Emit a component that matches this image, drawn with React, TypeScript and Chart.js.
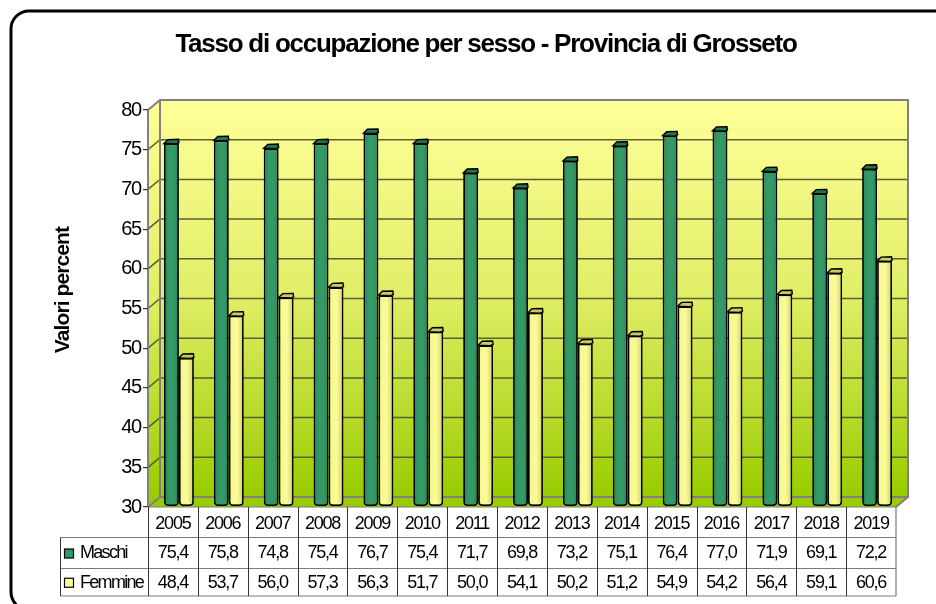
import React, { useEffect, useRef } from "react";
import { Chart, registerables } from "chart.js";

Chart.register(...registerables);

const years = ["2005", "2006", "2007", "2008", "2009", "2010", "2011", "2012", "2013", "2014", "2015", "2016", "2017", "2018", "2019"];
const maschi = [75.4, 75.8, 74.8, 75.4, 76.7, 75.4, 71.7, 69.8, 73.2, 75.1, 76.4, 77.0, 71.9, 69.1, 72.2];
const femmine = [48.4, 53.7, 56.0, 57.3, 56.3, 51.7, 50.0, 54.1, 50.2, 51.2, 54.9, 54.2, 56.4, 59.1, 60.6];
const titleText = "Tasso di occupazione per sesso - Provincia di Grosseto";
const yTitleText = "Valori percent";
const seriesNames = ["Maschi", "Femmine"];
const GREEN = "#339966";
const YELLOW = "#FBFB98";
const FONT = "'Liberation Sans', Arial, sans-serif";
const fmt = (v: number) => v.toFixed(1).replace(".", ",");

const DX = 12;
const DY = 10;
const BAR_SHIFT_X = 6;
const BAR_SHIFT_Y = -3;

const backdrop = {
  id: "backdrop",
  afterLayout(chart: any) {
    const b = chart.titleBlock;
    if (b && !b.__patched) {
      b.__patched = true;
      const d = b.draw;
      b.draw = function (...a: any[]) {
        chart.ctx.save();
        chart.ctx.letterSpacing = "-1.25px";
        d.apply(b, a);
        chart.ctx.restore();
      };
    }
    if (b) {
      b.left = 18;
      b.right = chart.width + 18;
    }
  },
  beforeDraw(chart: any) {
    const { ctx, chartArea: a, scales } = chart;
    const y = scales.y;
    ctx.letterSpacing = "-1.2px";
    ctx.save();
    ctx.letterSpacing = "0px";
    // outer rounded frame, running off the page
    ctx.strokeStyle = "#000";
    ctx.lineWidth = 3;
    ctx.beginPath();
    ctx.roundRect(11, 11, chart.width + 40, chart.height + 6 - 11, 18);
    ctx.stroke();

    const top = a.top - DY;
    const bot = a.bottom - DY;
    const grad = ctx.createLinearGradient(0, top, 0, bot);
    grad.addColorStop(0, "#FFFF99");
    grad.addColorStop(0.5, "#E0EE66");
    grad.addColorStop(1, "#99CC00");
    // side wall
    ctx.fillStyle = grad;
    ctx.beginPath();
    ctx.moveTo(a.left, a.top);
    ctx.lineTo(a.left + DX, top);
    ctx.lineTo(a.left + DX, bot);
    ctx.lineTo(a.left, a.bottom);
    ctx.closePath();
    ctx.fill();
    // back wall
    ctx.fillRect(a.left + DX, top, a.right - a.left, bot - top);
    // floor
    ctx.fillStyle = "#99CC00";
    ctx.beginPath();
    ctx.moveTo(a.left, a.bottom);
    ctx.lineTo(a.left + DX, bot);
    ctx.lineTo(a.right + DX, bot);
    ctx.lineTo(a.right, a.bottom);
    ctx.closePath();
    ctx.fill();
    // grid on walls
    ctx.strokeStyle = "#5E5E30";
    ctx.lineWidth = 1.5;
    y.ticks.forEach((t: any) => {
      if (t.value === 30 || t.value === 80) return;
      const py = y.getPixelForValue(t.value);
      ctx.beginPath();
      ctx.moveTo(a.left, py);
      ctx.lineTo(a.left + DX, py - DY);
      ctx.lineTo(a.right + DX, py - DY);
      ctx.stroke();
    });
    // wall edges
    ctx.strokeStyle = "#808080";
    ctx.lineWidth = 2;
    ctx.beginPath();
    ctx.moveTo(a.left, a.bottom);
    ctx.lineTo(a.left, a.top);
    ctx.lineTo(a.left + DX, top);
    ctx.lineTo(a.right + DX, top);
    ctx.lineTo(a.right + DX, bot);
    ctx.lineTo(a.left + DX, bot);
    ctx.lineTo(a.left + DX, top);
    ctx.moveTo(a.left, a.bottom);
    ctx.lineTo(a.left + DX, bot);
    ctx.moveTo(a.right + DX, bot);
    ctx.lineTo(a.right, a.bottom);
    ctx.stroke();
    ctx.restore();
  },
  beforeDatasetsDraw(chart: any) {
    chart.ctx.save();
    chart.ctx.translate(BAR_SHIFT_X, BAR_SHIFT_Y);
  },
  afterDatasetsDraw(chart: any) {
    const { ctx } = chart;
    chart.data.datasets.forEach((ds: any, di: number) => {
      const isGreen = di === 0;
      chart.getDatasetMeta(di).data.forEach((el: any) => {
        const l = el.x - el.width / 2;
        const r = el.x + el.width / 2;
        const w = el.width;
        const g = ctx.createLinearGradient(l, 0, r, 0);
        if (isGreen) {
          g.addColorStop(0, "rgba(0,0,0,0.2)");
          g.addColorStop(0.3, "rgba(0,0,0,0)");
          g.addColorStop(0.7, "rgba(0,0,0,0)");
          g.addColorStop(1, "rgba(0,0,0,0.2)");
        } else {
          g.addColorStop(0, "rgba(120,120,0,0.05)");
          g.addColorStop(0.55, "rgba(120,120,0,0)");
          g.addColorStop(0.72, "rgba(120,120,0,0.12)");
          g.addColorStop(1, "rgba(120,120,0,0.32)");
        }
        ctx.fillStyle = g;
        ctx.fillRect(l + 1.5, el.y + 1, w - 3, el.base - el.y - 4);
        // top cap
        ctx.beginPath();
        ctx.moveTo(l, el.y);
        ctx.lineTo(l + 4, el.y - 3.9);
        ctx.lineTo(r - 0.5, el.y - 4.2);
        ctx.lineTo(r, el.y - 0.7);
        ctx.lineTo(r - 3, el.y + 0.5);
        ctx.closePath();
        ctx.fillStyle = isGreen ? "#23744F" : "#C9C96A";
        ctx.fill();
        ctx.strokeStyle = "#000";
        ctx.lineWidth = 1.4;
        ctx.stroke();
      });
    });
    ctx.restore();
  },
  afterDraw(chart: any) {
    const { ctx, chartArea: a } = chart;
    const colW = (a.right - a.left) / years.length;
    const rows = [a.bottom, 537.5, 568.5, 596];
    const legendLeft = 60.5;
    ctx.save();
    // grid of the data table
    ctx.strokeStyle = "#7A7A7A";
    ctx.lineWidth = 1.2;
    ctx.beginPath();
    ctx.moveTo(a.left, rows[0]);
    ctx.lineTo(a.right, rows[0]);
    rows.slice(1).forEach((ry) => {
      ctx.moveTo(legendLeft, ry);
      ctx.lineTo(a.right, ry);
    });
    ctx.moveTo(a.right, rows[0]);
    ctx.lineTo(a.right, rows[3]);
    ctx.stroke();
    ctx.strokeStyle = "#333";
    ctx.lineWidth = 1;
    ctx.beginPath();
    ctx.moveTo(legendLeft, rows[1]);
    ctx.lineTo(legendLeft, rows[3]);
    for (let i = 0; i < years.length; i++) {
      const x = Math.round(a.left + i * colW) + 0.5;
      ctx.moveTo(x, rows[0]);
      ctx.lineTo(x, rows[3]);
    }
    ctx.stroke();
    // values
    ctx.font = `18px ${FONT}`;
    ctx.letterSpacing = "-1.2px";
    ctx.fillStyle = "#000";
    ctx.textBaseline = "middle";
    ctx.textAlign = "center";
    [maschi, femmine].forEach((vals, s) => {
      const cy = (rows[s + 1] + rows[s + 2]) / 2 + 0.5;
      vals.forEach((v, i) => ctx.fillText(fmt(v), a.left + (i + 0.5) * colW, cy));
    });
    // legend keys
    ctx.textAlign = "left";
    ctx.letterSpacing = "-1.7px";
    seriesNames.forEach((n, s) => {
      const cy = (rows[s + 1] + rows[s + 2]) / 2 + 0.5;
      ctx.fillStyle = s === 0 ? GREEN : YELLOW;
      ctx.strokeStyle = "#000";
      ctx.lineWidth = 1.2;
      ctx.fillRect(64.5, cy - 4.5, 9, 9);
      ctx.strokeRect(64.5, cy - 4.5, 9, 9);
      ctx.fillStyle = "#000";
      ctx.fillText(n, 80, cy);
    });
    // vertical axis title
    ctx.translate(63, 290);
    ctx.rotate(-Math.PI / 2);
    ctx.textAlign = "center";
    ctx.letterSpacing = "-0.9px";
    ctx.font = `bold 21px ${FONT}`;
    ctx.fillText(yTitleText, 0, 0);
    ctx.restore();
  },
};

export default function App() {
  const ref = useRef<HTMLCanvasElement>(null);
  useEffect(() => {
    document.body.style.margin = "0";
    const round = { bottomLeft: 4, bottomRight: 4, topLeft: 0, topRight: 0 };
    const chart = new Chart(ref.current!, {
      type: "bar",
      data: {
        labels: years,
        datasets: [
          { label: seriesNames[0], data: maschi, base: 29.75, backgroundColor: GREEN, borderColor: "#000", borderWidth: 1.8, borderRadius: round, borderSkipped: false, clip: false },
          { label: seriesNames[1], data: femmine, base: 29.75, backgroundColor: YELLOW, borderColor: "#000", borderWidth: 1.8, borderRadius: round, borderSkipped: false, clip: false },
        ],
      } as any,
      options: {
        responsive: false,
        animation: false,
        devicePixelRatio: 1,
        layout: { padding: { left: 0, right: 40, top: 0, bottom: 0 } },
        datasets: { bar: { categoryPercentage: 0.6, barPercentage: 1 } },
        plugins: {
          legend: { display: false },
          tooltip: { enabled: false },
          title: {
            display: true,
            text: titleText,
            color: "#000",
            font: { family: FONT, size: 26, weight: "bold", lineHeight: 1.2 },
            padding: { top: 29, bottom: 49.8 },
          },
        },
        scales: {
          x: {
            grid: { display: false, drawTicks: false },
            border: { display: false },
            ticks: { color: "#000", font: { family: FONT, size: 18 }, padding: 6, maxRotation: 0, autoSkip: false },
            afterFit: (s: any) => { s.height = 97; },
          },
          y: {
            min: 30,
            max: 80,
            grid: { drawOnChartArea: false, color: "#333", tickLength: 5, lineWidth: 1.2 },
            border: { display: false },
            ticks: { stepSize: 5, color: "#000", font: { family: FONT, size: 20 }, padding: 2, autoSkip: false },
            afterFit: (s: any) => { s.width = 148; },
          },
        },
      } as any,
      plugins: [backdrop as any],
    });
    return () => chart.destroy();
  }, []);
  return <canvas ref={ref} width={936} height={604} style={{ display: "block" }} />;
}
